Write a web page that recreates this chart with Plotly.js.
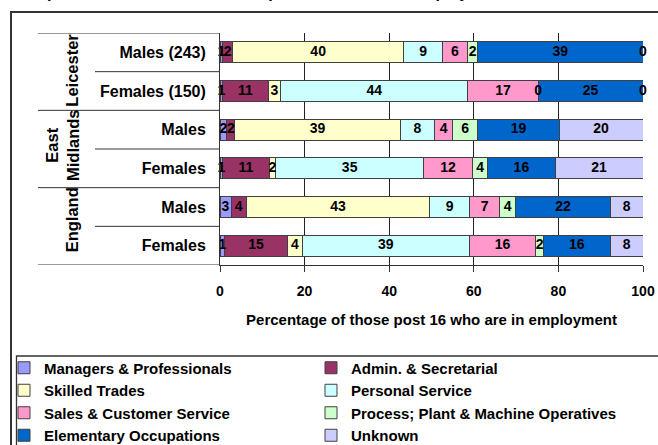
<!DOCTYPE html>
<html>
<head>
<meta charset="utf-8">
<script src="https://cdn.plot.ly/plotly-3.0.1.min.js"></script>
<style>
  html, body { margin: 0; padding: 0; background: #ffffff; }
  #chart { width: 658px; height: 445px; }
</style>
</head>
<body>
<div id="chart"></div>
<script>
// ---------------- DATA ----------------
const categories = ['Males (243)', 'Females (150)', 'Males', 'Females', 'Males', 'Females'];
const groups = ['Leicester', 'East<br>Midlands', 'England'];
const groupSizes = [2, 2, 2];

const seriesNames = [
  'Managers & Professionals', 'Admin. & Secretarial',
  'Skilled Trades', 'Personal Service',
  'Sales & Customer Service', 'Process; Plant & Machine Operatives',
  'Elementary Occupations', 'Unknown'
];

const managers   = [0.6, 0.6, 1.6, 0.6, 2.6, 1.1];
const admin      = [2.4, 10.8, 1.9, 11.0, 3.6, 14.8];
const skilled    = [40.4, 2.9, 39.1, 1.6, 43.4, 3.6];
const personal   = [9.2, 44.3, 8.1, 34.9, 9.4, 39.4];
const sales      = [5.9, 16.6, 4.3, 11.6, 7.1, 15.8];
const processOps = [2.4, 0, 5.9, 3.6, 3.8, 1.7];
const elementary = [39.1, 24.8, 19.3, 15.9, 22.4, 15.9];
const unknown    = [0, 0, 19.8, 20.8, 7.7, 7.7];

const xTickVals = [0, 20, 40, 60, 80, 100];
const xTitle = 'Percentage of those post 16 who are in employment';
const chartTitle = 'Occupational breakdown of those post 16 who are in employment';

// ---------------- STYLE ----------------
const series = [managers, admin, skilled, personal, sales, processOps, elementary, unknown];
const colors = ['#9999FF', '#993366', '#FFFFCC', '#CCFFFF', '#FF99CC', '#CCFFCC', '#0066CC', '#CCCCFF'];
const FONT = 'Liberation Sans, Arial, sans-serif';
const W = 658, H = 445;
const M = {l: 220, r: 15, t: 33, b: 180, autoexpand: false};
const PW = W - M.l - M.r, PH = H - M.t - M.b;
const px = v => (v - M.l) / PW;        // pixel x -> paper x
const py = v => (H - M.b - v) / PH;    // pixel y -> paper y
const LINE = '#333333';

const rowIdx = categories.map((_, i) => i);

const traces = [];
series.forEach((vals, s) => {
  traces.push({
    type: 'bar',
    orientation: 'h',
    name: seriesNames[s],
    x: vals,
    y: rowIdx,
    marker: {color: colors[s], line: {color: '#404040', width: 1}},
    legend: (s % 2 === 0) ? 'legend' : 'legend2',
    hoverinfo: 'x+name'
  });
});

// data labels centred on each segment
const lx = [], ly = [], lt = [];
rowIdx.forEach(r => {
  let cum = 0;
  series.forEach(vals => {
    const v = vals[r];
    lx.push(cum + v / 2);
    ly.push(r);
    lt.push(String(Math.round(v)));
    cum += v;
  });
});
traces.push({
  type: 'scatter',
  mode: 'text',
  x: lx, y: ly, text: lt,
  textposition: 'middle center',
  textfont: {family: FONT, size: 14, color: '#000000', weight: 700},
  showlegend: false,
  hoverinfo: 'skip',
  cliponaxis: false
});

// table lines for the two-level category axis
const shapes = [];
const tableLeft = px(38), innerLeft = px(95);
shapes.push({type: 'line', xref: 'paper', yref: 'y', x0: tableLeft, x1: 0, y0: -0.5, y1: -0.5, line: {color: LINE, width: 1}});
shapes.push({type: 'line', xref: 'paper', yref: 'y', x0: tableLeft, x1: 0, y0: categories.length - 0.5, y1: categories.length - 0.5, line: {color: LINE, width: 1}});
let start = 0;
const annotations = [];
groups.forEach((g, gi) => {
  const n = groupSizes[gi];
  for (let k = 1; k < n; k++) {
    shapes.push({type: 'line', xref: 'paper', yref: 'y', x0: innerLeft, x1: 0, y0: start + k - 0.5, y1: start + k - 0.5, line: {color: LINE, width: 1}});
  }
  if (gi < groups.length - 1) {
    shapes.push({type: 'line', xref: 'paper', yref: 'y', x0: tableLeft, x1: 0, y0: start + n - 0.5, y1: start + n - 0.5, line: {color: LINE, width: 1}});
  }
  const twoLine = g.indexOf('<br>') >= 0;
  annotations.push({
    xref: 'paper', yref: 'y',
    x: twoLine ? px(62) : px(72),
    y: start + (n - 1) / 2,
    yshift: gi === 0 ? 1 : (gi === 1 ? 4 : 6),
    text: g, textangle: -90, showarrow: false,
    xanchor: 'center', yanchor: 'middle',
    font: {family: FONT, size: 16.5, color: '#000000', weight: 700}
  });
  start += n;
});

// outer chart border and legend box
shapes.push({type: 'rect', xref: 'paper', yref: 'paper', x0: px(11), x1: px(720), y0: py(520), y1: py(12), line: {color: LINE, width: 2}, fillcolor: 'rgba(0,0,0,0)', layer: 'below'});
shapes.push({type: 'rect', xref: 'paper', yref: 'paper', x0: px(16.5), x1: px(720), y0: py(520), y1: py(356), line: {color: LINE, width: 1.3}, fillcolor: 'rgba(0,0,0,0)', layer: 'below'});

// clipped title at top edge
annotations.push({
  xref: 'paper', yref: 'paper', x: px(5), y: py(2.5), xanchor: 'left', yanchor: 'bottom',
  text: chartTitle, showarrow: false,
  font: {family: FONT, size: 16, color: '#000000', weight: 700}
});

const legendCommon = {
  orientation: 'v', traceorder: 'normal', bgcolor: 'rgba(0,0,0,0)', borderwidth: 0,
  font: {family: FONT, size: 15, color: '#000000', weight: 700},
  xanchor: 'left', yanchor: 'top', itemclick: false, itemdoubleclick: false, tracegroupgap: 0
};

const layout = {
  width: W, height: H,
  margin: M,
  paper_bgcolor: '#ffffff', plot_bgcolor: '#ffffff',
  barmode: 'stack',
  bargap: 0.457,
  showlegend: true,
  font: {family: FONT, size: 15, color: '#000000'},
  xaxis: {
    range: [0, 100], tickvals: xTickVals, ticktext: xTickVals.map(String),
    showgrid: true, gridcolor: '#222222', gridwidth: 1, zeroline: false,
    showline: true, linecolor: LINE, linewidth: 1,
    ticks: 'outside', ticklen: 6, tickcolor: LINE, tickwidth: 1,
    ticklabelstandoff: 7,
    tickfont: {family: FONT, size: 14, color: '#000000', weight: 700},
    title: {text: xTitle, standoff: 16, font: {family: FONT, size: 15, color: '#000000', weight: 700}},
    automargin: false,
    fixedrange: true
  },
  yaxis: {
    range: [categories.length - 0.5, -0.5],
    tickvals: rowIdx, ticktext: categories,
    showgrid: false, zeroline: false,
    showline: true, linecolor: LINE, linewidth: 1,
    ticks: '', ticklabelstandoff: 10,
    tickfont: {family: FONT, size: 16, color: '#000000', weight: 700},
    automargin: false,
    fixedrange: true
  },
  legend: Object.assign({}, legendCommon, {x: px(4), y: py(351.5)}),
  legend2: Object.assign({}, legendCommon, {x: px(311), y: py(351.5)}),
  shapes: shapes,
  annotations: annotations
};

Plotly.newPlot('chart', traces, layout, {displayModeBar: false, staticPlot: true});
</script>
</body>
</html>
